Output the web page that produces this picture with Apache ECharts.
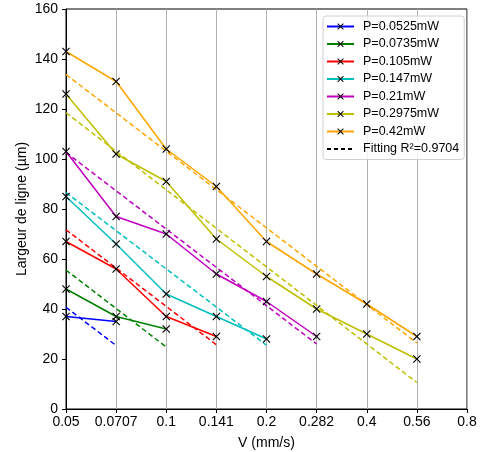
<!DOCTYPE html>
<html><head><meta charset="utf-8">
<script src="https://cdn.jsdelivr.net/npm/echarts@6/dist/echarts.min.js"></script>
<style>html,body{margin:0;padding:0;background:#fff}#c{width:481px;height:452px}</style>
</head><body><div id="c"></div>
<script>
const xLabels = ['0.05','0.0707','0.1','0.141','0.2','0.282','0.4','0.56','0.8'];
const names = ['P=0.0525mW','P=0.0735mW','P=0.105mW','P=0.147mW','P=0.21mW','P=0.2975mW','P=0.42mW'];
const colors = ['#0000ff','#008000','#ff0000','#00bfbf','#bf00bf','#bfbf00','#ffa500'];
const p0525 = [37, 35];
const p0735 = [48, 37, 32];
const p105 = [67, 56, 37, 29];
const p147 = [85, 66, 46, 37, 28];
const p21 = [103, 77, 70, 54, 43, 29];
const p2975 = [126, 102, 91, 68, 53, 40, 30, 20];
const p42 = [143, 131, 104, 89, 67, 54, 42, 29];
const fit0525 = [40.7, 25.4];
const fit0735 = [55.6, null, 24.8];
const fit105 = [71.7, null, null, 25.7];
const fit147 = [86.6, null, null, null, 25.5];
const fit21 = [102.6, null, null, null, null, 26];
const fit2975 = [118.5, null, null, null, null, null, null, 10.6];
const fit42 = [133.8, null, null, null, null, null, null, 26.4];
const fitName = 'Fitting R²=0.9704';
const yTicks = [0, 20, 40, 60, 80, 100, 120, 140, 160];

const measured = [p0525, p0735, p105, p147, p21, p2975, p42];
const fits = [fit0525, fit0735, fit105, fit147, fit21, fit2975, fit42];
const xSym = 'path://M0,1L1,0L5,4L9,0L10,1L6,5L10,9L9,10L5,6L1,10L0,9L4,5Z';
const font = 'Liberation Sans, Arial, sans-serif';

const series = [];
measured.forEach((d, i) => {
  series.push({
    name: names[i], type: 'line', data: d, symbol: xSym, symbolSize: 8,
    lineStyle: {color: colors[i], width: 1.5},
    itemStyle: {color: '#000'}, z: 3, animation: false
  });
  series.push({
    name: 'fit' + i, type: 'line', data: fits[i], connectNulls: true, symbol: 'none',
    lineStyle: {color: colors[i], width: 1.5, type: [5, 3]}, z: 2, animation: false
  });
});
series.push({name: fitName, type: 'line', data: [], symbol: 'none',
  lineStyle: {color: '#000', width: 1.5, type: [4, 3]}, itemStyle: {color: 'rgba(0,0,0,0)'}});

const chart = echarts.init(document.getElementById('c'), null, {renderer: 'canvas'});
chart.setOption({
  animation: false,
  textStyle: {fontFamily: font},
  grid: {left: 66, right: 14, top: 9, bottom: 43, show: true, borderColor: '#000', borderWidth: 1,
         outerBoundsMode: 'none', containLabel: false},
  legend: {
    data: names.concat([fitName]), orient: 'vertical', left: 323, top: 16,
    itemWidth: 27, itemHeight: 8, itemGap: 4.5, padding: [4, 5, 4, 3],
    borderColor: '#d0d0d0', borderWidth: 1, borderRadius: 3, backgroundColor: 'rgba(255,255,255,0.8)',
    textStyle: {fontFamily: font, fontSize: 12.5, color: '#000', padding: [0, 0, 0, 4]}
  },
  xAxis: {
    type: 'category', data: xLabels, boundaryGap: false,
    name: 'V (mm/s)', nameLocation: 'middle', nameGap: 27, nameMoveOverlap: false,
    nameTextStyle: {fontFamily: font, fontSize: 14, color: '#000'},
    axisLine: {lineStyle: {color: '#000'}},
    axisTick: {show: true, inside: false, length: 4, alignWithLabel: true, lineStyle: {color: '#000'}},
    axisLabel: {fontFamily: font, fontSize: 14, color: '#000', margin: 6, interval: 0},
    splitLine: {show: true, interval: 0, lineStyle: {color: '#b0b0b0', width: 1}}
  },
  yAxis: {
    type: 'value', min: yTicks[0], max: yTicks[yTicks.length - 1], interval: 20,
    name: 'Largeur de ligne (µm)', nameLocation: 'middle', nameGap: 37, nameMoveOverlap: false,
    nameTextStyle: {fontFamily: font, fontSize: 14, color: '#000'},
    axisLine: {show: true, lineStyle: {color: '#000'}},
    axisTick: {show: true, length: 4, lineStyle: {color: '#000'}},
    axisLabel: {fontFamily: font, fontSize: 14, color: '#000', margin: 8},
    splitLine: {show: false}
  },
  series: series
});
</script></body></html>
